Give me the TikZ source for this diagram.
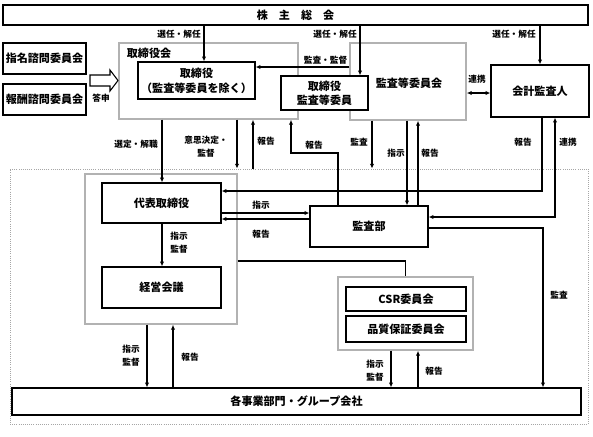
\documentclass[tikz,border=0pt]{standalone}
\usepackage{fontspec}
\setmainfont{Noto Sans CJK JP}
\usetikzlibrary{arrows.meta}
\begin{document}
\begin{tikzpicture}[x=0.75pt,y=-0.75pt,
 box/.style={draw, line width=0.9pt, fill=white, inner sep=0pt, font=\fontsize{8.3}{10.5}\selectfont\bfseries, align=center},
 gbox/.style={draw=gray!60, line width=1.1pt, inner sep=0pt},
 area/.style={draw=gray!70, densely dotted, line width=0.6pt, inner sep=0pt},
 lbl/.style={inner sep=0pt, font=\fontsize{6.5}{9.5}\selectfont\bfseries, align=center},
 glbl/.style={inner sep=0pt, font=\fontsize{8.3}{10}\selectfont\bfseries},
 tip/.tip={Latex[length=3.6pt,width=3.2pt]},
 arr/.style={line width=0.8pt, -tip},
 ln/.style={line width=0.8pt},
 darr/.style={line width=0.8pt, tip-tip}
]
\useasboundingbox (0,0) rectangle (593,436);
% frames
\node[area, minimum width=433.5pt, minimum height=191.25pt] (area) at (299,296.5) {};
\node[gbox, minimum width=134.25pt, minimum height=57pt] (tb) at (208.5,81) {};
\node[gbox, minimum width=87pt, minimum height=57.75pt] (acom) at (408,81.5) {};
\node[gbox, minimum width=114pt, minimum height=112.5pt] (grp) at (161,249) {};
\node[gbox, minimum width=101.25pt, minimum height=54.75pt] (csrg) at (405.5,313.5) {};
\node[glbl] (tbl) at (149,53) {取締役会};
\node[glbl] (acoml) at (409,83) {監査等委員会};
% boxes
\node[box, minimum width=438.75pt, minimum height=15pt] (sh) at (295.5,15) {株　主　総　会};
\node[box, minimum width=62.25pt, minimum height=23.25pt] (shimei) at (44.5,58.5) {指名諮問委員会};
\node[box, minimum width=62.25pt, minimum height=23.25pt] (hoshu) at (44.5,99.5) {報酬諮問委員会};
\node[box, minimum width=87.75pt, minimum height=27.75pt, font=\fontsize{8.3}{11.25}\selectfont\bfseries] (dir) at (196.5,80.5) {取締役\\（監査等委員を除く）};
\node[box, minimum width=65.25pt, minimum height=25.5pt] (adir) at (324.5,93) {取締役\\監査等委員};
\node[box, minimum width=73.5pt, minimum height=39pt] (aud) at (540,91) {会計監査人};
\node[box, minimum width=89.25pt, minimum height=30pt] (ceo) at (161.5,203) {代表取締役};
\node[box, minimum width=89.25pt, minimum height=30.75pt] (mgmt) at (161.5,287.5) {経営会議};
\node[box, minimum width=88.5pt, minimum height=30.75pt] (ia) at (369,226.5) {監査部};
\node[box, minimum width=90pt, minimum height=18pt] (csr) at (406,299) {CSR委員会};
\node[box, minimum width=90pt, minimum height=19.5pt] (qa) at (406,329) {品質保証委員会};
\node[box, minimum width=426.75pt, minimum height=20.25pt] (biz) at (296.5,401.5) {各事業部門・グループ会社};
% hollow arrow (toushin)
\draw[line width=0.8pt, fill=white] (90,75) -- (110,75) -- (110,70) -- (118,80.5) -- (110,91) -- (110,86) -- (90,86) -- cycle;
\node[lbl] at (101,98) {答申};
% connectors
\draw[arr] (204,0 |- sh.south) -- (204,0 |- dir.north);
\node[lbl, anchor=east] at (201,34) {選任・解任};
\draw[arr] (360,0 |- sh.south) -- (360,0 |- adir.north);
\node[lbl, anchor=east] at (357,34) {選任・解任};
\draw[arr] (540,0 |- sh.south) -- (aud.north);
\node[lbl, anchor=east] at (536,34) {選任・解任};
\draw[arr] (acom.west |- 0,67) -- (dir.east |- 0,67);
\node[lbl] at (325.5,60) {監査・監督};
\draw[darr] (acom.east |- 0,93) -- (aud.west |- 0,93);
\node[lbl] at (477,79) {連携};
\draw[arr] (162,0 |- tb.south) -- (162,0 |- ceo.north);
\node[lbl, anchor=east] at (158,144) {選定・解職};
\draw[arr] (237,0 |- tb.south) -- (237,0 |- area.north);
\node[lbl] at (206,147) {意思決定・\\監督};
\draw[arr] (253,0 |- area.north) -- (253,0 |- tb.south);
\node[lbl] at (266,141) {報告};
\draw[arr] (338,0 |- ia.north) |- (291,153) -- (291,0 |- tb.south);
\node[lbl] at (314,145) {報告};
\draw[arr] (372,0 |- acom.south) -- (372,0 |- area.north);
\node[lbl] at (359,142) {監査};
\draw[arr] (407,0 |- acom.south) -- (407,0 |- ia.north);
\node[lbl] at (396,153) {指示};
\draw[arr] (418,0 |- ia.north) -- (418,0 |- acom.south);
\node[lbl] at (430,153) {報告};
\draw[arr] (542,0 |- aud.south) |- (ceo.east |- 0,191);
\node[lbl] at (523,142) {報告};
\draw[darr] (555,0 |- aud.south) |- (ia.east |- 0,217);
\node[lbl] at (568,142) {連携};
\draw[arr] (ceo.east |- 0,213) -- (ia.west |- 0,213);
\node[lbl] at (261,205) {指示};
\draw[arr] (ia.west |- 0,219) -- (ceo.east |- 0,219);
\node[lbl] at (261,234) {報告};
\draw[arr] (162,0 |- ceo.south) -- (162,0 |- mgmt.north);
\node[lbl] at (179,243) {指示\\監督};
\draw[ln] (grp.east |- 0,261) -| (csrg.north);
\draw[arr] (ia.east |- 0,228) -| (543,0 |- biz.north);
\node[lbl] at (559,295) {監査};
\draw[arr] (147,0 |- grp.south) -- (147,0 |- biz.north);
\node[lbl] at (131,356) {指示\\監督};
\draw[arr] (173,0 |- biz.north) -- (173,0 |- grp.south);
\node[lbl] at (190,357) {報告};
\draw[arr] (391,0 |- csrg.south) -- (391,0 |- biz.north);
\node[lbl] at (375,371) {指示\\監督};
\draw[arr] (418,0 |- biz.north) -- (418,0 |- csrg.south);
\node[lbl] at (434,371) {報告};
\end{tikzpicture}
\end{document}
